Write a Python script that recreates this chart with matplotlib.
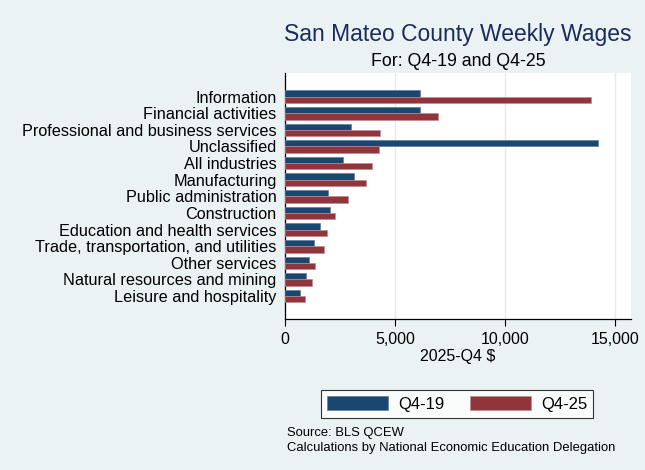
import numpy as np
import matplotlib.pyplot as plt
from matplotlib.ticker import FuncFormatter

# data
industries = [
    "Information",
    "Financial activities",
    "Professional and business services",
    "Unclassified",
    "All industries",
    "Manufacturing",
    "Public administration",
    "Construction",
    "Education and health services",
    "Trade, transportation, and utilities",
    "Other services",
    "Natural resources and mining",
    "Leisure and hospitality",
]
q4_19 = [6120, 6120, 3010, 14240, 2620, 3120, 1970, 2060, 1570, 1330, 1100, 970, 700]
q4_25 = [13920, 6950, 4330, 4270, 3950, 3700, 2850, 2290, 1910, 1760, 1380, 1230, 910]
series_labels = ["Q4-19", "Q4-25"]

# style
plt.rcParams["font.family"] = ["Liberation Sans", "DejaVu Sans"]
bg = "#eaf2f3"
navy = "#1a476f"
maroon = "#90353b"

fig = plt.figure(figsize=(6.45, 4.7), dpi=100, facecolor=bg)
ax = fig.add_axes([285 / 645, 1 - 319 / 470, 346 / 645, 246 / 470])
ax.set_facecolor("white")

y = np.arange(len(industries))
h = 0.38
ax.barh(y - h / 2, q4_19, height=h, color=navy, edgecolor="#5f7f9c", linewidth=0.5,
        label=series_labels[0], zorder=3)
ax.barh(y + h / 2, q4_25, height=h, color=maroon, edgecolor="#c08a8e", linewidth=0.5,
        label=series_labels[1], zorder=3)

ax.set_ylim(len(industries) - 1 + 1.38, -1.42)
ax.set_xlim(0, 15730)
ax.set_yticks(y, industries, fontsize=11.7)
ax.tick_params(axis="y", length=0, pad=6)
ax.set_xticks([0, 5000, 10000, 15000])
ax.xaxis.set_major_formatter(FuncFormatter(lambda v, _: f"{v:,.0f}"))
ax.tick_params(axis="x", labelsize=11.5, length=5, width=0.8, pad=4)
ax.set_xlabel("2025-Q4 $", fontsize=11.5, labelpad=2)

ax.grid(axis="x", color="#e2ecef", linewidth=1.0, zorder=0)
for side in ["top", "right"]:
    ax.spines[side].set_visible(False)
for side in ["left", "bottom"]:
    ax.spines[side].set_linewidth(0.9)

fig.text(458 / 645, 1 - 34 / 470, "San Mateo County Weekly Wages", ha="center", va="center",
         fontsize=16.5, color="#1a2c5b")
fig.text(458 / 645, 1 - 61 / 470, "For: Q4-19 and Q4-25", ha="center", va="center",
         fontsize=12.8, color="black")

leg = fig.legend(loc="center", bbox_to_anchor=(457 / 645, 1 - 404 / 470), ncol=2,
                 fontsize=12, frameon=True, fancybox=False, edgecolor="black",
                 handlelength=3.65, handleheight=0.95, columnspacing=1.55,
                 handletextpad=0.6, borderpad=0.35, borderaxespad=0)
leg.get_frame().set_linewidth(0.8)

fig.text(287 / 645, 1 - 433 / 470, "Source: BLS QCEW", ha="left", va="center", fontsize=9.4)
fig.text(287 / 645, 1 - 448 / 470, "Calculations by National Economic Education Delegation",
         ha="left", va="center", fontsize=9.4)

fig.savefig("out.png", dpi=100, facecolor=bg)
